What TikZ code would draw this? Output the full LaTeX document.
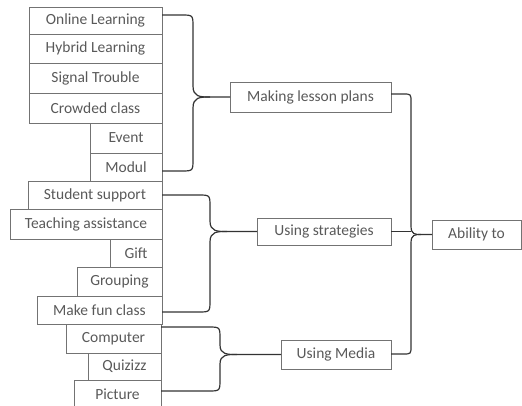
\documentclass[tikz,border=0pt]{standalone}
\usepackage{fontspec}
\setmainfont{Carlito}
\begin{document}
\begin{tikzpicture}[x=1pt,y=-1pt,
  box/.style={draw=black!55,line width=0.8pt,inner sep=0pt,outer sep=0pt,anchor=north west,
    font=\fontsize{15.5}{17}\selectfont,text=black!65},
  conn/.style={draw=black!80,line width=1.2pt}]
\useasboundingbox (0,0) rectangle (522,406);
% left boxes
\node[box,minimum width=133pt,minimum height=27pt] (ol) at (29,7) {Online Learning};
\node[box,minimum width=133pt,minimum height=29pt] (hl) at (29,34) {Hybrid Learning};
\node[box,minimum width=133pt,minimum height=30pt] (st) at (29,63) {Signal Trouble};
\node[box,minimum width=133pt,minimum height=30pt] (cc) at (29,93) {Crowded class};
\node[box,minimum width=72pt,minimum height=30pt] (ev) at (90,123) {Event};
\node[box,minimum width=72pt,minimum height=28pt] (mo) at (90,153) {Modul};
\node[box,minimum width=134pt,minimum height=28pt] (ss) at (28,181) {Student support};
\node[box,minimum width=152pt,minimum height=30pt] (ta) at (10,209) {Teaching assistance};
\node[box,minimum width=52pt,minimum height=28pt] (gi) at (110,239) {Gift};
\node[box,minimum width=85pt,minimum height=29pt] (gr) at (77,267) {Grouping};
\node[box,minimum width=125pt,minimum height=28pt] (mf) at (37,296) {Make fun class};
\node[box,minimum width=95pt,minimum height=29pt] (co) at (66,324) {Computer};
\node[box,minimum width=73pt,minimum height=27pt] (qu) at (88,353) {Quizizz};
\node[box,minimum width=87pt,minimum height=28pt] (pi) at (74,380) {Picture};
% middle boxes
\node[box,minimum width=161pt,minimum height=30pt] (mlp) at (230,82) {Making lesson plans};
\node[box,minimum width=134pt,minimum height=27pt] (us) at (257,218) {Using strategies};
\node[box,minimum width=110pt,minimum height=29pt] (um) at (281,340) {Using Media};
\node[box,minimum width=89pt,minimum height=29pt] (ab) at (432,220) {Ability to};
% brace 1
\draw[conn] (ol.east |- 0,15) -- (181,15) .. controls (193,15) .. (193,27) -- (193,86)
  .. controls (193,97) and (200,97) .. (210,97) -- (mlp.west);
\draw[conn] (mo.east |- 0,171) -- (181,171) .. controls (193,171) .. (193,159) -- (193,108)
  .. controls (193,97) and (200,97) .. (210,97);
% brace 2
\draw[conn] (ss.east |- 0,195) -- (198,195) .. controls (210,195) .. (210,207) -- (210,221)
  .. controls (210,231.5) and (217,231.5) .. (227,231.5) -- (us.west);
\draw[conn] (mf.east |- 0,312) -- (198,312) .. controls (210,312) .. (210,300) -- (210,242)
  .. controls (210,231.5) and (217,231.5) .. (227,231.5);
% brace 3
\draw[conn] (co.east |- 0,327) -- (208,327) .. controls (220,327) .. (220,339) -- (220,345)
  .. controls (220,354.5) and (227,354.5) .. (237,354.5) -- (um.west);
\draw[conn] (pi.east |- 0,391) -- (208,391) .. controls (220,391) .. (220,379) -- (220,364)
  .. controls (220,354.5) and (227,354.5) .. (237,354.5);
% right brace
\draw[conn] (mlp.east |- 0,94) -- (403,94) .. controls (411,94) .. (411,102) -- (411,226)
  .. controls (411,234.5) and (415,234.5) .. (421,234.5) -- (ab.west);
\draw[conn] (um.east |- 0,354) -- (403,354) .. controls (411,354) .. (411,346) -- (411,243)
  .. controls (411,234.5) and (415,234.5) .. (421,234.5);
\draw[conn] (us.east) -- (411,231.5);
\end{tikzpicture}
\end{document}
